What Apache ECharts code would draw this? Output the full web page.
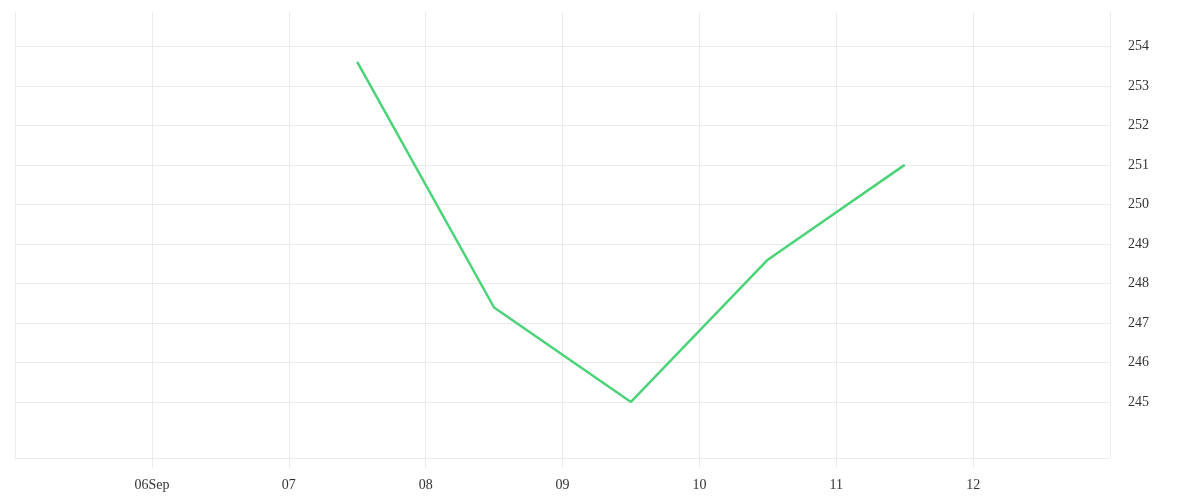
<!DOCTYPE html>
<html>
<head>
<meta charset="utf-8">
<script src="https://cdn.jsdelivr.net/npm/echarts@6/dist/echarts.min.js"></script>
<style>
html,body{margin:0;padding:0;background:#fff;}
#chart{width:1200px;height:500px;}
</style>
</head>
<body>
<div id="chart"></div>
<script>
// x values: day of September (noon = .5)
const xDays = [7.5, 8.5, 9.5, 10.5, 11.5];
const values = [253.61, 247.39, 245.0, 248.60, 251.0];
const yTicks = [245, 246, 247, 248, 249, 250, 251, 252, 253, 254];
const xTickLabels = {6: '06Sep', 7: '07', 8: '08', 9: '09', 10: '10', 11: '11', 12: '12'};

const chart = echarts.init(document.getElementById('chart'));
const gridColor = '#ebebeb';
const labelFont = { fontFamily: 'Liberation Serif', fontSize: 14, color: '#333' };

chart.setOption({
  animation: false,
  grid: { left: 15, right: 90, top: 12, bottom: 42, containLabel: false },
  xAxis: {
    type: 'value',
    min: 5, max: 13, interval: 1,
    axisLine: { show: true, lineStyle: { color: gridColor, width: 1 } },
    axisTick: { show: true, length: 10, lineStyle: { color: gridColor, width: 1 } },
    splitLine: { show: true, lineStyle: { color: gridColor, width: 1 } },
    axisLabel: Object.assign({
      margin: 20,
      showMinLabel: false, showMaxLabel: false,
      formatter: v => xTickLabels[v] || ''
    }, labelFont)
  },
  yAxis: {
    type: 'value',
    position: 'right',
    min: 243.58, max: 254.87,
    axisLine: { show: false },
    axisTick: { show: false, customValues: yTicks },
    splitLine: { show: true, lineStyle: { color: gridColor, width: 1 } },
    axisLabel: Object.assign({
      margin: 18,
      padding: [4, 0, 0, 0],
      customValues: yTicks,
      formatter: v => String(v)
    }, labelFont)
  },
  series: [{
    type: 'line',
    data: xDays.map((d, i) => [d, values[i]]),
    showSymbol: false,
    symbol: 'none',
    lineStyle: { color: '#4cd37a', width: 2.5 },
    itemStyle: { color: '#4cd37a' }
  }]
});
</script>
</body>
</html>
